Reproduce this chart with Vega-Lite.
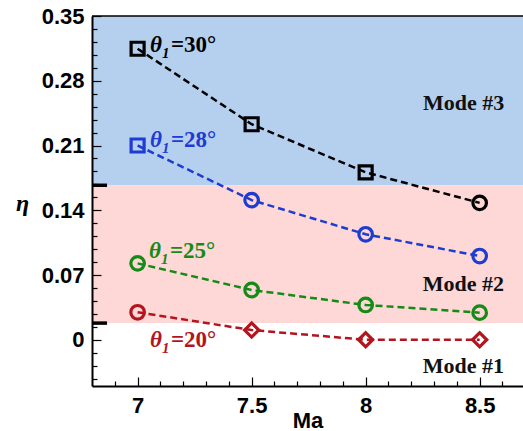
{
  "$schema": "https://vega.github.io/schema/vega-lite/v6.json",
  "width": 431,
  "height": 370,
  "autosize": {"type": "none"},
  "padding": {"left": 92, "top": 16, "right": 0, "bottom": 45},
  "background": "white",
  "config": {"view": {"stroke": null}},
  "datasets": {
    "bands": [
      {"mode": "Mode #3", "lo": 0.167, "hi": 0.35},
      {"mode": "Mode #2", "lo": 0.018, "hi": 0.167}
    ],
    "bounds": [{"eta": 0.167}, {"eta": 0.018}],
    "frame": [{"eta": 0.35}],
    "series": [
      {"theta": "30", "Ma": 7.0, "eta": 0.3146, "mode": "3"},
      {"theta": "30", "Ma": 7.5, "eta": 0.233, "mode": "3"},
      {"theta": "30", "Ma": 8.0, "eta": 0.181, "mode": "3"},
      {"theta": "30", "Ma": 8.5, "eta": 0.148, "mode": "2"},
      {"theta": "28", "Ma": 7.0, "eta": 0.210, "mode": "3"},
      {"theta": "28", "Ma": 7.5, "eta": 0.151, "mode": "2"},
      {"theta": "28", "Ma": 8.0, "eta": 0.114, "mode": "2"},
      {"theta": "28", "Ma": 8.5, "eta": 0.0905, "mode": "2"},
      {"theta": "25", "Ma": 7.0, "eta": 0.0826, "mode": "2"},
      {"theta": "25", "Ma": 7.5, "eta": 0.0538, "mode": "2"},
      {"theta": "25", "Ma": 8.0, "eta": 0.0376, "mode": "2"},
      {"theta": "25", "Ma": 8.5, "eta": 0.0293, "mode": "2"},
      {"theta": "20", "Ma": 7.0, "eta": 0.0297, "mode": "2"},
      {"theta": "20", "Ma": 7.5, "eta": 0.0105, "mode": "1"},
      {"theta": "20", "Ma": 8.0, "eta": 0.0, "mode": "1"},
      {"theta": "20", "Ma": 8.5, "eta": 0.0, "mode": "1"}
    ],
    "labels": [
      {"theta": "30", "Ma": 7.054, "eta": 0.311, "label": "=30°"},
      {"theta": "28", "Ma": 7.054, "eta": 0.208, "label": "=28°"},
      {"theta": "25", "Ma": 7.050, "eta": 0.0884, "label": "=25°"},
      {"theta": "20", "Ma": 7.054, "eta": -0.0075, "label": "=20°"}
    ],
    "modes": [
      {"mode": "Mode #3", "Ma": 8.43, "eta": 0.2555},
      {"mode": "Mode #2", "Ma": 8.428, "eta": 0.0608},
      {"mode": "Mode #1", "Ma": 8.428, "eta": -0.0284}
    ]
  },
  "layer": [
    {
      "data": {"name": "bands"},
      "mark": {"type": "rect"},
      "encoding": {
        "y": {"field": "lo", "type": "quantitative", "axis": null, "scale": {"domain": [-0.05, 0.35], "nice": false, "zero": false}},
        "y2": {"field": "hi"},
        "color": {"field": "mode", "type": "nominal", "scale": {"domain": ["Mode #3", "Mode #2"], "range": ["#b5d0ee", "#fdd8d6"]}, "legend": null}
      }
    },
    {
      "data": {"name": "frame"},
      "mark": {"type": "rule", "color": "black", "strokeWidth": 1.5},
      "encoding": {
        "y": {"field": "eta", "type": "quantitative", "axis": null}
      }
    },
    {
      "data": {"name": "bounds"},
      "mark": {"type": "rule", "color": "black", "strokeWidth": 3.5},
      "encoding": {
        "y": {"field": "eta", "type": "quantitative", "axis": null},
        "x": {"datum": 6.8, "type": "quantitative", "axis": null},
        "x2": {"datum": 6.866}
      }
    },
    {
      "data": {"name": "series"},
      "mark": {"type": "line", "strokeDash": [7, 4], "strokeWidth": 2.5},
      "encoding": {
        "x": {
          "field": "Ma", "type": "quantitative", "title": "Ma",
          "scale": {"domain": [6.8, 8.69], "nice": false, "zero": false},
          "axis": {
            "orient": "bottom",
            "values": [7, 7.5, 8, 8.5],
            "format": "~g",
            "grid": false, "zindex": 1, "labelOverlap": false,
            "domainColor": "black", "domainWidth": 2,
            "tickColor": "black", "tickWidth": 1.2, "tickSize": -9,
            "labelFontSize": 22,
            "labelFont": "Liberation Sans", "labelFontWeight": "bold", "labelColor": "black",
            "labelPadding": 18, "labelBaseline": "top",
            "titleFont": "Liberation Sans", "titleFontWeight": "bold", "titleFontSize": 22, "titleColor": "black",
            "titleBaseline": "alphabetic", "titleY": 41
          }
        },
        "y": {
          "field": "eta", "type": "quantitative", "title": "η",
          "axis": {
            "orient": "left",
            "values": [0, 0.07, 0.14, 0.21, 0.28, 0.35],
            "format": ".2~f",
            "grid": false, "zindex": 1, "labelOverlap": false,
            "domainColor": "black", "domainWidth": 2,
            "tickColor": "black", "tickWidth": 1.2, "tickSize": -9,
            "labelFontSize": 22,
            "labelFont": "Liberation Sans", "labelFontWeight": "bold", "labelColor": "black",
            "labelPadding": 17,
            "titleFont": "Liberation Serif", "titleFontStyle": "italic", "titleFontWeight": "bold", "titleFontSize": 24, "titleColor": "black",
            "titleAngle": 0, "titleAlign": "center", "titleBaseline": "alphabetic", "titleX": -70, "titleY": 194
          }
        },
        "color": {"field": "theta", "type": "nominal", "scale": {"domain": ["30", "28", "25", "20"], "range": ["#000000", "#1e3cd2", "#168a16", "#b4141e"]}, "legend": null},
        "detail": {"field": "theta"}
      }
    },
    {
      "data": {"name": "series"},
      "mark": {"type": "point", "filled": false, "strokeWidth": 3.2, "opacity": 1},
      "encoding": {
        "x": {"field": "Ma", "type": "quantitative", "axis": null},
        "y": {"field": "eta", "type": "quantitative", "axis": null},
        "shape": {"field": "mode", "type": "nominal", "scale": {"domain": ["3", "2", "1"], "range": ["square", "circle", "diamond"]}, "legend": null},
        "size": {"field": "mode", "type": "nominal", "scale": {"domain": ["3", "2", "1"], "range": [169, 200, 256]}, "legend": null},
        "color": {"field": "theta", "type": "nominal", "scale": {"domain": ["30", "28", "25", "20"], "range": ["#000000", "#1e3cd2", "#168a16", "#b4141e"]}, "legend": null}
      }
    },
    {
      "data": {"name": "labels"},
      "mark": {"type": "text", "text": "θ", "align": "left", "baseline": "alphabetic", "font": "Liberation Serif", "fontStyle": "italic", "fontWeight": "bold", "fontSize": 23},
      "encoding": {
        "x": {"field": "Ma", "type": "quantitative", "axis": null},
        "y": {"field": "eta", "type": "quantitative", "axis": null},
        "color": {"field": "theta", "type": "nominal", "scale": {"domain": ["30", "28", "25", "20"], "range": ["#000000", "#1e3cd2", "#168a16", "#b4141e"]}, "legend": null}
      }
    },
    {
      "data": {"name": "labels"},
      "mark": {"type": "text", "text": "1", "align": "left", "baseline": "alphabetic", "dx": 12, "dy": 6, "font": "Liberation Serif", "fontStyle": "italic", "fontWeight": "bold", "fontSize": 15},
      "encoding": {
        "x": {"field": "Ma", "type": "quantitative", "axis": null},
        "y": {"field": "eta", "type": "quantitative", "axis": null},
        "color": {"field": "theta", "type": "nominal", "scale": {"domain": ["30", "28", "25", "20"], "range": ["#000000", "#1e3cd2", "#168a16", "#b4141e"]}, "legend": null}
      }
    },
    {
      "data": {"name": "labels"},
      "mark": {"type": "text", "align": "left", "baseline": "alphabetic", "dx": 21, "font": "Liberation Serif", "fontWeight": "bold", "fontSize": 23},
      "encoding": {
        "x": {"field": "Ma", "type": "quantitative", "axis": null},
        "y": {"field": "eta", "type": "quantitative", "axis": null},
        "text": {"field": "label"},
        "color": {"field": "theta", "type": "nominal", "scale": {"domain": ["30", "28", "25", "20"], "range": ["#000000", "#1e3cd2", "#168a16", "#b4141e"]}, "legend": null}
      }
    },
    {
      "data": {"name": "modes"},
      "mark": {"type": "text", "align": "center", "baseline": "middle", "font": "Liberation Serif", "fontWeight": "bold", "fontSize": 22, "color": "#111111"},
      "encoding": {
        "x": {
          "field": "Ma", "type": "quantitative",
          "axis": {
            "orient": "bottom", "title": null, "labels": false, "domain": false, "grid": false, "zindex": 1,
            "values": [6.9, 7.1, 7.2, 7.3, 7.4, 7.6, 7.7, 7.8, 7.9, 8.1, 8.2, 8.3, 8.4, 8.6],
            "tickColor": "black", "tickWidth": 1.2, "tickSize": -5
          }
        },
        "y": {
          "field": "eta", "type": "quantitative",
          "axis": {
            "orient": "left", "title": null, "labels": false, "domain": false, "grid": false, "zindex": 1,
            "values": [-0.042, -0.028, -0.014, 0.014, 0.028, 0.042, 0.056, 0.084, 0.098, 0.112, 0.126, 0.154, 0.168, 0.182, 0.196, 0.224, 0.238, 0.252, 0.266, 0.294, 0.308, 0.322, 0.336],
            "tickColor": "black", "tickWidth": 1.2, "tickSize": -5
          }
        },
        "text": {"field": "mode"}
      }
    }
  ],
  "resolve": {"scale": {"color": "independent"}, "axis": {"x": "independent", "y": "independent"}}
}
